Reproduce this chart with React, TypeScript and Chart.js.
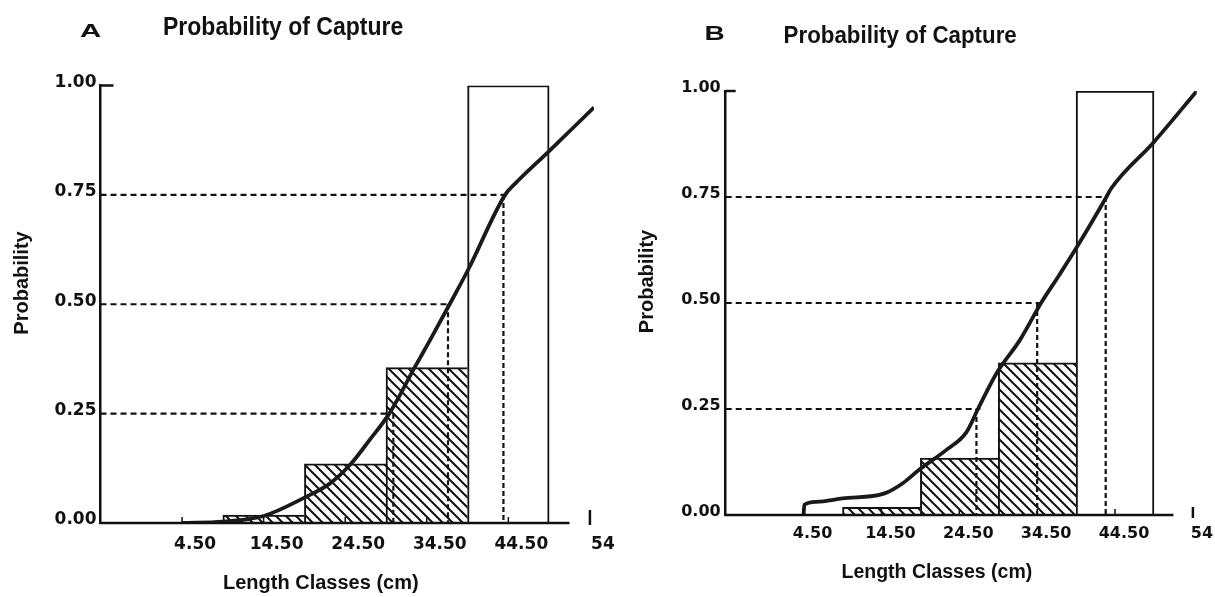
import React, { useEffect, useRef } from 'react';
import { Chart, registerables } from 'chart.js';

Chart.register(...registerables);

// ---------- data ----------
const BAR_CENTERS = [14.5, 24.5, 34.5, 44.5];
const BAR_HATCHED = [true, true, true, false];
const BARS_A = [0.018, 0.135, 0.355, 1.0];
const BARS_B = [0.018, 0.134, 0.359, 1.0];

const CURVE_A_X = [4.5, 9.5, 14.5, 19.5, 22.6, 25.1, 27.5, 29.9, 33.0, 34.9, 37.3, 39.6, 44.1, 45.3, 49.5, 55];
const CURVE_A_Y = [0, 0.003, 0.016, 0.058, 0.09, 0.133, 0.19, 0.25, 0.355, 0.418, 0.5, 0.58, 0.75, 0.775, 0.85, 0.95];

const CURVE_B_X = [4.5, 4.6, 6.1, 9.5, 14.9, 17.25, 19.3, 22.8, 25.4, 26.9, 29.3, 32.3, 35.0, 37.3, 39.6, 43.3, 44.0, 49.5, 55];
const CURVE_B_Y = [0, 0.024, 0.031, 0.039, 0.051, 0.075, 0.106, 0.153, 0.195, 0.25, 0.335, 0.413, 0.5, 0.565, 0.632, 0.747, 0.77, 0.88, 1.0];

const LEVELS = [0.25, 0.5, 0.75];
const LEVEL_A_H_END = [29.7, 37.5, 44.1];
const LEVEL_A_V_X = [30.4, 37.1, 43.9];
const LEVEL_B_H_END = [27.2, 34.8, 43.3];
const LEVEL_B_V_X = [26.7, 34.5, 43.3];

const X_TICKS = [4.5, 14.5, 24.5, 34.5, 44.5, 54.5];
const X_TICK_LABELS = ['4.50', '14.50', '24.50', '34.50', '44.50', '54'];
const Y_TICKS = [0, 0.25, 0.5, 0.75, 1];
const X_MIN = -5.5;
const X_MAX = 55;
const X_AXIS_END = 52;

const TITLE = 'Probability of Capture';
const X_TITLE = 'Length Classes (cm)';
const Y_TITLE = 'Probability';

const INK = '#111';

const PANELS = [
  {
    letter: 'A', left: 0, width: 620, height: 597,
    area: { left: 100.5, right: 594, top: 85.5, bottom: 523 },
    bars: BARS_A, cx: CURVE_A_X, cy: CURVE_A_Y, hEnd: LEVEL_A_H_END, vX: LEVEL_A_V_X,
    tickFont: 17, yLabelPad: 4, xLabelPad: 11, xLabelOffset: 13,
    topTick: 13, endTick: [2, -13],
    text: {
      letterSize: 19, letterScale: 1.55, letterX: 80, letterY: 37,
      titleSize: 25, titleScale: 0.92, titleX: 163, titleY: 35,
      xTitleSize: 20, xTitleX: 223, xTitleY: 589,
      yTitleSize: 20, yTitleX: 27.6, yTitleY: 283,
    },
  },
  {
    letter: 'B', left: 610, width: 605, height: 597,
    area: { left: 115.7, right: 586.8, top: 91, bottom: 515 },
    bars: BARS_B, cx: CURVE_B_X, cy: CURVE_B_Y, hEnd: LEVEL_B_H_END, vX: LEVEL_B_V_X,
    tickFont: 16, yLabelPad: 5, xLabelPad: 9.5, xLabelOffset: 9,
    topTick: 10, endTick: [3, -8],
    text: {
      letterSize: 20, letterScale: 1.4, letterX: 94.5, letterY: 40,
      titleSize: 24, titleScale: 0.93, titleX: 173.6, titleY: 43,
      xTitleSize: 19.5, xTitleX: 231.5, xTitleY: 578,
      yTitleSize: 20, yTitleX: 43.3, yTitleY: 281.5,
    },
  },
];

function makeHatch(ctx: CanvasRenderingContext2D) {
  const s = 10;
  const c = document.createElement('canvas');
  c.width = s;
  c.height = s;
  const g = c.getContext('2d')!;
  g.fillStyle = '#fff';
  g.fillRect(0, 0, s, s);
  g.strokeStyle = INK;
  g.lineWidth = 2;
  g.beginPath();
  g.moveTo(-1, -1);
  g.lineTo(s + 1, s + 1);
  g.moveTo(-3, s - 3);
  g.lineTo(3, s + 3);
  g.moveTo(s - 3, -3);
  g.lineTo(s + 3, 3);
  g.stroke();
  return ctx.createPattern(c, 'repeat');
}

function buildConfig(p: any, ctx: CanvasRenderingContext2D): any {
  const hatch = makeHatch(ctx);
  const tickFont = { family: '"DejaVu Sans", sans-serif', weight: 'bold', size: p.tickFont };

  const decor = {
    id: 'decor',
    afterDatasetsDraw(chart: any) {
      const c = chart.ctx;
      const xs = chart.scales.x;
      const ys = chart.scales.y;
      const y0 = ys.getPixelForValue(0);
      const xl = xs.getPixelForValue(X_MIN);
      c.save();
      c.strokeStyle = INK;
      c.lineWidth = 2.5;
      c.beginPath();
      c.moveTo(xl - 1, y0);
      c.lineTo(xs.getPixelForValue(X_AXIS_END), y0);
      c.stroke();
      const y1 = ys.getPixelForValue(1);
      c.beginPath();
      c.moveTo(xl, y1);
      c.lineTo(xl + p.topTick, y1);
      c.stroke();
      c.lineWidth = 1.5;
      X_TICKS.slice(0, -1).forEach((v) => {
        const px = xs.getPixelForValue(v);
        c.beginPath();
        c.moveTo(px, y0);
        c.lineTo(px, y0 - 6);
        c.stroke();
      });
      c.lineWidth = 2.5;
      const pe = xs.getPixelForValue(X_TICKS[X_TICKS.length - 1]);
      c.beginPath();
      c.moveTo(pe, y0 + p.endTick[0]);
      c.lineTo(pe, y0 + p.endTick[1]);
      c.stroke();
      c.restore();
    },
    afterDraw(chart: any) {
      const c = chart.ctx;
      const t = p.text;
      c.save();
      c.fillStyle = INK;
      c.textAlign = 'left';
      c.textBaseline = 'alphabetic';
      // panel letter
      c.save();
      c.translate(t.letterX, t.letterY);
      c.scale(t.letterScale, 1);
      c.font = `bold ${t.letterSize}px "Liberation Sans", Arial, sans-serif`;
      c.fillText(p.letter, 0, 0);
      c.restore();
      // title
      c.save();
      c.translate(t.titleX, t.titleY);
      c.scale(t.titleScale, 1);
      c.font = `bold ${t.titleSize}px "Liberation Sans", Arial, sans-serif`;
      c.fillText(TITLE, 0, 0);
      c.restore();
      // x title
      c.font = `bold ${t.xTitleSize}px "Liberation Sans", Arial, sans-serif`;
      c.fillText(X_TITLE, t.xTitleX, t.xTitleY);
      // y title
      c.save();
      c.translate(t.yTitleX, t.yTitleY);
      c.rotate(-Math.PI / 2);
      c.textAlign = 'center';
      c.font = `bold ${t.yTitleSize}px "Liberation Sans", Arial, sans-serif`;
      c.fillText(Y_TITLE, 0, 0);
      c.restore();
      c.restore();
    },
  };

  const datasets: any[] = [
    {
      type: 'line',
      label: 'curve',
      data: p.cx.map((x: number, i: number) => ({ x, y: p.cy[i] })),
      borderColor: '#1a1a1a',
      borderWidth: 3.8,
      pointRadius: 0,
      cubicInterpolationMode: 'monotone',
      order: 0,
    },
    ...LEVELS.map((lv, i) => ({
      type: 'line',
      label: 'h' + lv,
      data: [{ x: X_MIN, y: lv }, { x: p.hEnd[i], y: lv }],
      borderColor: INK,
      borderWidth: 2.2,
      borderDash: [6, 4],
      pointRadius: 0,
      order: 1,
    })),
    ...LEVELS.map((lv, i) => ({
      type: 'line',
      label: 'v' + lv,
      data: [{ x: p.vX[i], y: lv }, { x: p.vX[i], y: 0 }],
      borderColor: INK,
      borderWidth: 2.2,
      borderDash: [5, 3],
      pointRadius: 0,
      order: 1,
    })),
    {
      type: 'bar',
      label: 'bars',
      data: BAR_CENTERS.map((x, i) => ({ x, y: p.bars[i] })),
      backgroundColor: BAR_HATCHED.map((h) => (h ? hatch : '#ffffff')),
      borderColor: INK,
      borderWidth: (c: any) =>
        c.dataIndex === BAR_CENTERS.length - 1
          ? { top: 2, left: 2, right: 2, bottom: 0 }
          : { top: 2, left: 2, right: 0, bottom: 0 },
      borderSkipped: false,
      barPercentage: 1,
      categoryPercentage: 1,
      order: 2,
    },
  ];

  return {
    type: 'bar',
    data: { datasets },
    plugins: [decor],
    options: {
      responsive: false,
      animation: false,
      devicePixelRatio: 1,
      events: [],
      layout: {
        padding: { left: 0, top: p.area.top, right: p.width - p.area.right, bottom: 0 },
      },
      plugins: {
        legend: { display: false },
        tooltip: { enabled: false },
        title: { display: false },
      },
      scales: {
        x: {
          type: 'linear',
          min: X_MIN,
          max: X_MAX,
          offset: false,
          afterBuildTicks: (s: any) => {
            s.ticks = X_TICKS.map((v) => ({ value: v }));
          },
          afterFit: (s: any) => {
            s.height = p.height - p.area.bottom;
          },
          grid: { display: false, drawTicks: false },
          border: { display: false },
          ticks: {
            autoSkip: false,
            maxRotation: 0,
            minRotation: 0,
            padding: p.xLabelPad,
            labelOffset: p.xLabelOffset,
            color: INK,
            font: tickFont,
            callback: (_v: any, i: number) => X_TICK_LABELS[i],
          },
        },
        y: {
          type: 'linear',
          min: 0,
          max: 1,
          afterBuildTicks: (s: any) => {
            s.ticks = Y_TICKS.map((v) => ({ value: v }));
          },
          afterFit: (s: any) => {
            s.width = p.area.left;
          },
          grid: { display: false, drawTicks: false },
          border: { display: true, color: INK, width: 2.5 },
          ticks: {
            padding: p.yLabelPad,
            labelOffset: -3,
            color: INK,
            font: tickFont,
            callback: (v: any) => Number(v).toFixed(2),
          },
        },
      },
    },
  };
}

function Panel({ cfg }: { cfg: any }) {
  const ref = useRef<HTMLCanvasElement>(null);
  useEffect(() => {
    const canvas = ref.current!;
    const ctx = canvas.getContext('2d')!;
    const chart = new Chart(ctx, buildConfig(cfg, ctx));
    return () => chart.destroy();
  }, [cfg]);
  return (
    <canvas
      ref={ref}
      width={cfg.width}
      height={cfg.height}
      style={{ position: 'absolute', left: cfg.left, top: 0, width: cfg.width, height: cfg.height }}
    />
  );
}

export default function App() {
  return (
    <div
      style={{
        position: 'absolute',
        left: 0,
        top: 0,
        width: 1215,
        height: 597,
        background: '#fff',
        overflow: 'hidden',
      }}
    >
      {PANELS.map((p) => (
        <Panel key={p.letter} cfg={p} />
      ))}
    </div>
  );
}
